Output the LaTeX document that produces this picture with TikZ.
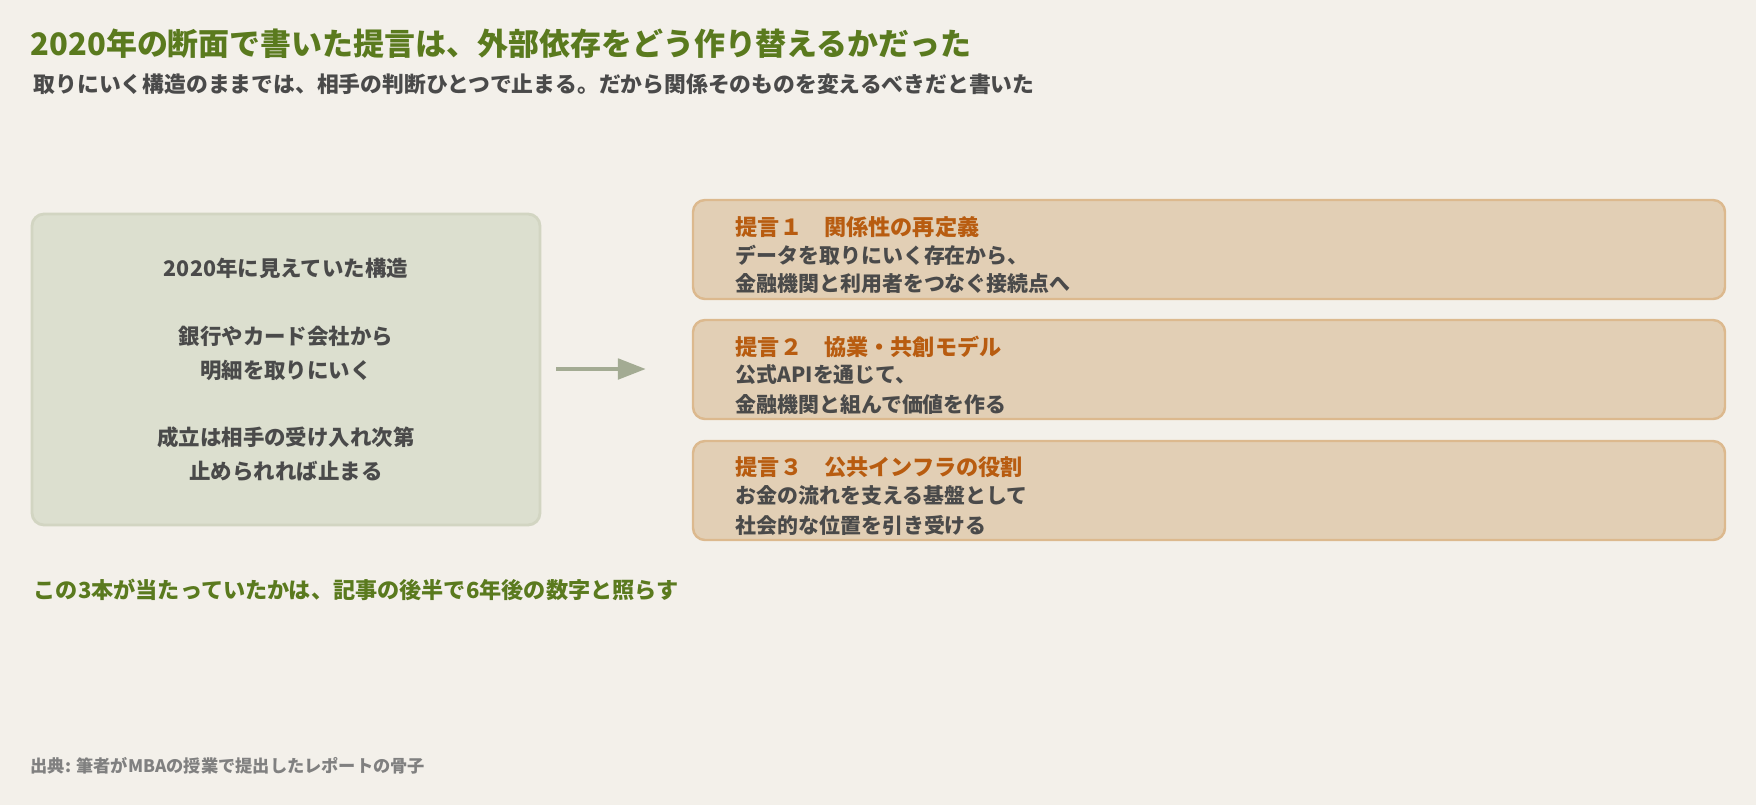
\documentclass[tikz,border=0pt]{standalone}
\usepackage{fontspec}
\setmainfont{Noto Sans CJK JP}
\usetikzlibrary{positioning,arrows.meta}
\definecolor{bgc}{HTML}{F3F0EA}
\definecolor{leftfill}{HTML}{DCDFCF}
\definecolor{leftline}{HTML}{D2D5C2}
\definecolor{propfill}{HTML}{E2CFB5}
\definecolor{propline}{HTML}{DCB98E}
\definecolor{headc}{HTML}{B85C10}
\definecolor{titlec}{HTML}{5A7A1E}
\definecolor{textc}{HTML}{4A4A4A}
\definecolor{arrowc}{HTML}{A3AB93}
\begin{document}
\begin{tikzpicture}[x=0.01cm,y=-0.01cm,
  txt/.style={anchor=west,inner sep=0pt,font=\bfseries\fontsize{5.95pt}{7pt}\selectfont,text=textc},
  head/.style={anchor=west,inner sep=0pt,font=\bfseries\fontsize{6.3pt}{8pt}\selectfont,text=headc},
  prop/.style={draw=propline,line width=0.7pt,fill=propfill,rounded corners=0.12cm},
  edge/.style={draw=arrowc,line width=1.4pt,-{Triangle[length=0.28cm,width=0.2cm]}}]
\fill[bgc] (0,0) rectangle (1756,805);
\node (title)[anchor=west,inner sep=0pt,font=\bfseries\fontsize{8.8pt}{10pt}\selectfont,text=titlec] at (30,44) {2020年の断面で書いた提言は、外部依存をどう作り替えるかだった};
\node (sub)[txt,font=\bfseries\fontsize{6.2pt}{7pt}\selectfont] at (33,84) {取りにいく構造のままでは、相手の判断ひとつで止まる。だから関係そのものを変えるべきだと書いた};
% left box
\draw[draw=leftline,line width=0.8pt,fill=leftfill,rounded corners=0.12cm] (32,214) rectangle (540,525);
\node (now)[align=center,inner sep=0pt,font=\bfseries\fontsize{6.1pt}{9.6pt}\selectfont,text=textc] at (286,370)
  {2020年に見えていた構造\\[9.6pt]銀行やカード会社から\\明細を取りにいく\\[9.6pt]成立は相手の受け入れ次第\\止められれば止まる};
\coordinate (a1) at (556,369);
\coordinate (a2) at (646,369);
\draw[edge] (a1) -- (a2);
% proposals
\draw[prop] (693,200) rectangle (1725,299);
\node (h1)[head] at (735,227) {提言１\quad 関係性の再定義};
\node (t1)[txt] at (735,255) {データを取りにいく存在から、};
\node (u1)[txt] at (735,284) {金融機関と利用者をつなぐ接続点へ};
\draw[prop] (693,320) rectangle (1725,419);
\node (h2)[head] at (735,347) {提言２\quad 協業・共創モデル};
\node (t2)[txt] at (735,375) {公式APIを通じて、};
\node (u2)[txt] at (735,404) {金融機関と組んで価値を作る};
\draw[prop] (693,441) rectangle (1725,540);
\node (h3)[head] at (735,467) {提言３\quad 公共インフラの役割};
\node (t3)[txt] at (735,496) {お金の流れを支える基盤として};
\node (u3)[txt] at (735,525) {社会的な位置を引き受ける};
\node (note)[anchor=west,inner sep=0pt,font=\bfseries\fontsize{6.3pt}{8pt}\selectfont,text=titlec] at (33,590) {この3本が当たっていたかは、記事の後半で6年後の数字と照らす};
\node (src)[anchor=west,inner sep=0pt,font=\bfseries\fontsize{4.9pt}{6pt}\selectfont,text=gray] at (30,766) {出典: 筆者がMBAの授業で提出したレポートの骨子};
\end{tikzpicture}
\end{document}
